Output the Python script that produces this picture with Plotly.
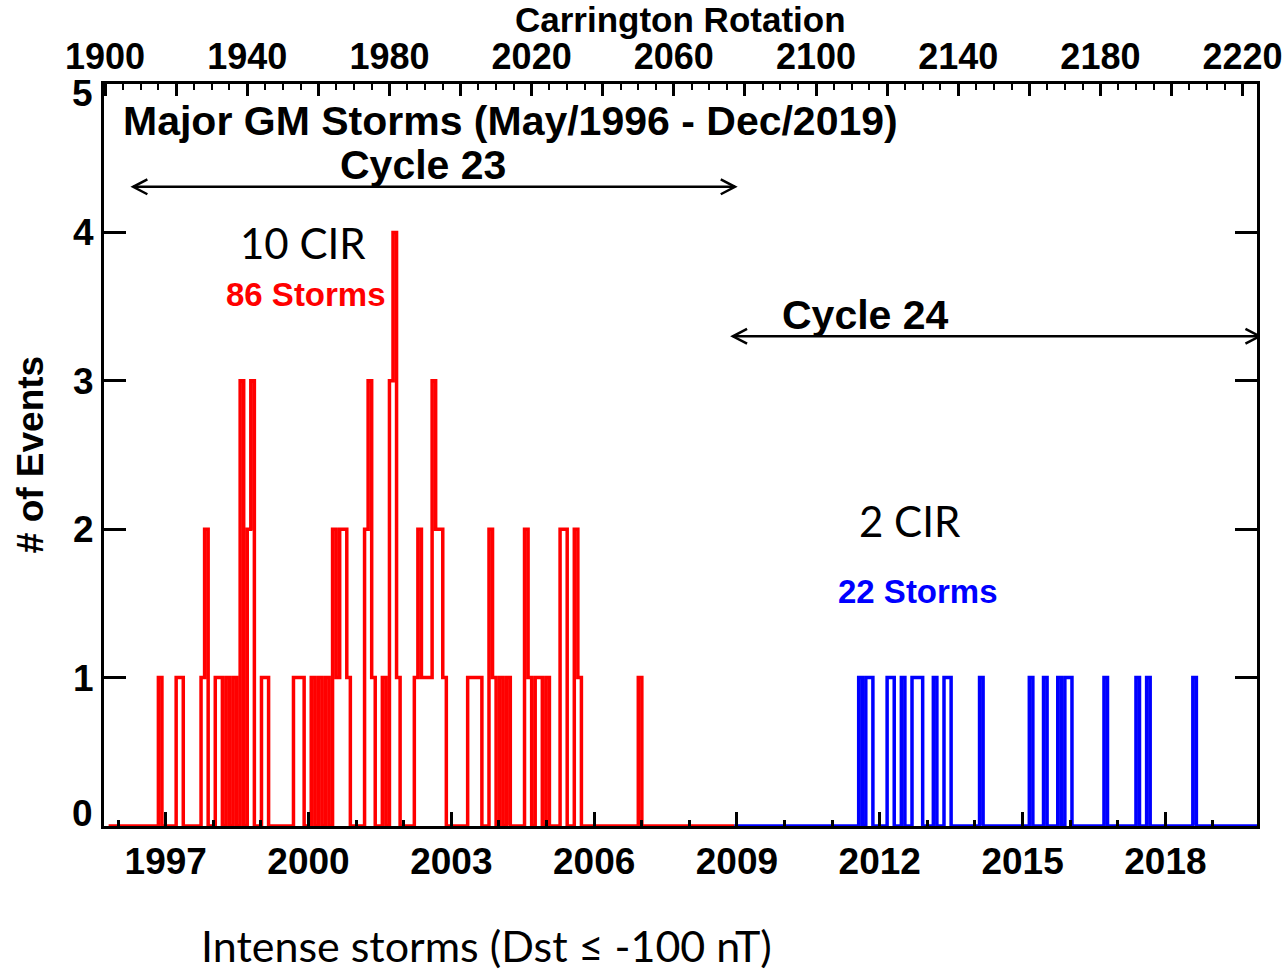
import numpy as np
import plotly.graph_objects as go

# Intense geomagnetic storms (Dst <= -100 nT), one entry per storm,
# given as the Carrington rotation in which the storm occurred.
cycle23_storm_cr = [
    1915,
    1920, 1921,
    1927, 1928, 1928,
    1931, 1932, 1934, 1936,
    1938, 1938, 1938, 1940, 1940, 1941, 1941, 1941,
    1944, 1945,
    1953, 1954, 1955,
    1958, 1960, 1962,
    1964, 1964, 1965, 1966, 1966, 1967, 1967, 1968,
    1973, 1973, 1974, 1974, 1974, 1975,
    1978, 1980, 1980, 1980, 1981, 1981, 1981, 1981, 1982,
    1987, 1988, 1988, 1989, 1990, 1991, 1992, 1992, 1992, 1993, 1993, 1994, 1994, 1995,
    2002, 2003, 2004, 2005,
    2008, 2008, 2009, 2011, 2013,
    2018, 2018, 2019, 2021, 2022, 2024,
    2028, 2028, 2029, 2029,
    2032, 2032, 2033,
    2050,
]
cycle24_storm_cr = [
    2112, 2114, 2115, 2120, 2121, 2124, 2127, 2128, 2129, 2133, 2136, 2137,
    2146, 2160, 2164, 2168, 2170, 2171, 2181, 2190, 2193, 2206,
]
cycle23_cir = 10
cycle24_cir = 2

# Rotation span covered by each cycle's histogram
cycle23_span = (1901, 2077)
cycle24_span = (2077, 2225)

# Axis annotation values
cr_ticks = list(range(1900, 2221, 20))
cr_labelled = list(range(1900, 2221, 40))
year_minor = list(range(1996, 2020))
year_labelled = list(range(1997, 2019, 3))
count_ticks = [0, 1, 2, 3, 4, 5]

ROT_PER_YEAR = 365.25 / 27.2753
CR_AT_1997 = 1917.06
X_RANGE = [1899.7, 2224.05]


def year_to_cr(y):
    return CR_AT_1997 + (y - 1997) * ROT_PER_YEAR


def step_outline(storms, span):
    lo, hi = span
    edges = np.arange(lo, hi + 1)
    counts = np.zeros(len(edges) - 1, dtype=int)
    for cr in storms:
        counts[cr - lo] += 1
    return edges, np.append(counts, counts[-1])


BOLD = dict(family="Liberation Sans, Arial", color="black", weight="bold")
PLAIN = "Lato, Open Sans, sans-serif"

fig = go.Figure()

for storms, span, colour in [
    (cycle23_storm_cr, cycle23_span, "#ff0000"),
    (cycle24_storm_cr, cycle24_span, "#0000ff"),
]:
    xs, ys = step_outline(storms, span)
    fig.add_trace(go.Scatter(
        x=xs, y=ys, mode="lines", line=dict(color=colour, width=3.5, shape="hv"),
        showlegend=False, hoverinfo="skip",
    ))

# carrier trace for the Carrington-rotation axis on top
fig.add_trace(go.Scatter(x=X_RANGE, y=[None, None], xaxis="x2", mode="lines",
                         showlegend=False, hoverinfo="skip"))

# end labels of the count axis sit just inside the frame
inner_labels = {0: 0.085, 5: 4.94}

fig.update_layout(
    width=1286, height=973,
    margin=dict(l=104, r=29, t=84, b=147, autoexpand=False),
    paper_bgcolor="white", plot_bgcolor="white",
    xaxis=dict(
        range=X_RANGE, showgrid=False, zeroline=False, automargin=False,
        showline=True, linecolor="black", linewidth=3,
        tickmode="array", tickvals=[year_to_cr(y) for y in year_labelled],
        ticktext=[str(y) for y in year_labelled],
        ticks="inside", ticklen=14, tickwidth=3, tickcolor="black",
        minor=dict(tickmode="array", tickvals=[year_to_cr(y) for y in year_minor],
                   ticks="inside", ticklen=6, tickwidth=3, tickcolor="black"),
        tickfont=dict(BOLD, size=37), ticklabelstandoff=1,
    ),
    xaxis2=dict(
        overlaying="x", side="top", range=X_RANGE, showgrid=False, zeroline=False,
        automargin=False,
        showline=True, linecolor="black", linewidth=3,
        tickmode="array", tickvals=cr_ticks,
        ticktext=[str(v) if v in cr_labelled else "" for v in cr_ticks],
        ticks="inside", ticklen=12, tickwidth=2.5, tickcolor="black",
        minor=dict(dtick=5, tick0=1900, ticks="inside", ticklen=6, tickwidth=2, tickcolor="black"),
        tickfont=dict(BOLD, size=36), ticklabelstandoff=-2,
    ),
    yaxis=dict(
        range=[0, 5], showgrid=False, zeroline=False, automargin=False,
        showline=True, linecolor="black", linewidth=3, mirror="ticks",
        tickmode="array", tickvals=count_ticks,
        ticktext=["" if v in inner_labels else str(v) for v in count_ticks],
        ticks="inside", ticklen=22, tickwidth=3, tickcolor="black",
        tickfont=dict(BOLD, size=37), ticklabelstandoff=0,
    ),
)

annotations = [
    dict(text="Carrington Rotation", xref="paper", yref="paper", x=0.5, y=1.087,
         font=dict(BOLD, size=35)),
    dict(text="# of Events", xref="paper", yref="paper", x=-0.064, y=0.5, textangle=-90,
         font=dict(BOLD, size=37)),
    dict(text="Major GM Storms (May/1996 - Dec/2019)", xref="x", yref="y",
         x=1904.6, y=4.75, xanchor="left", font=dict(BOLD, size=41)),
    dict(text="Cycle 23", xref="x", yref="y", x=1989.4, y=4.455, font=dict(BOLD, size=41)),
    dict(text="Cycle 24", xref="x", yref="y", x=2114.0, y=3.445, font=dict(BOLD, size=41)),
    dict(text=f"{cycle23_cir} CIR", xref="x", yref="y", x=1955.7, y=3.93,
         font=dict(family=PLAIN, size=42, color="black")),
    dict(text=f"{len(cycle23_storm_cr)} Storms", xref="x", yref="y", x=1956.5, y=3.58,
         font=dict(BOLD, size=33, color="#ff0000")),
    dict(text=f"{cycle24_cir} CIR", xref="x", yref="y", x=2126.4, y=2.057,
         font=dict(family=PLAIN, size=42, color="black")),
    dict(text=f"{len(cycle24_storm_cr)} Storms", xref="x", yref="y", x=2128.7, y=1.58,
         font=dict(BOLD, size=33, color="#0000ff")),
    dict(text="Intense storms (Dst ≤ -100 nT)", xref="paper", yref="paper", x=0.332, y=-0.161,
         font=dict(family=PLAIN, size=43, color="black")),
]
for v, pos in inner_labels.items():
    annotations.append(dict(text=str(v), xref="paper", yref="y", x=-0.008, y=pos,
                            xanchor="right", height=30, font=dict(BOLD, size=37)))
for a in annotations:
    a.setdefault("showarrow", False)
    a.setdefault("xanchor", "center")
    a.setdefault("yanchor", "middle")
    fig.add_annotation(**a)

# double-headed cycle arrows with open chevron heads
HEAD_DX, HEAD_DY = 4.0, 0.05
for x0, x1, y in [(1907.9, 2077.2, 4.307), (2076.6, 2224.8, 3.30)]:
    fig.add_shape(type="line", x0=x0, x1=x1, y0=y, y1=y, xref="x", yref="y",
                  line=dict(color="black", width=2.5))
    for tip, sign in [(x0, 1), (x1, -1)]:
        fig.add_shape(type="path", xref="x", yref="y",
                      path=f"M {tip + sign * HEAD_DX},{y + HEAD_DY} L {tip},{y} L {tip + sign * HEAD_DX},{y - HEAD_DY}",
                      line=dict(color="black", width=2.5))

fig.write_html("out.html")
